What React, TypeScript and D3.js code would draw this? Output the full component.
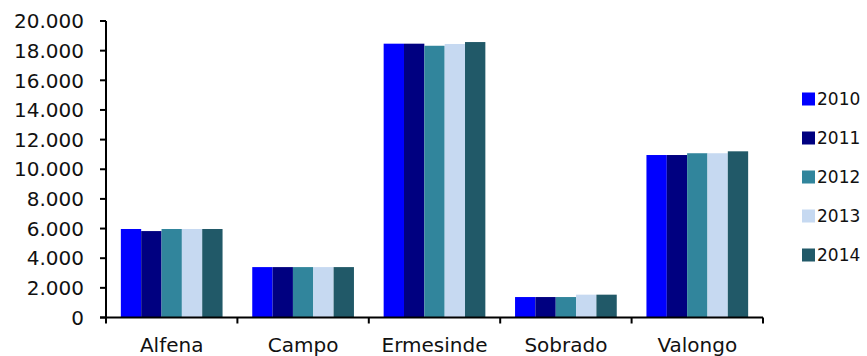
import React from "react";
import * as d3 from "d3";

const categories = ["Alfena", "Campo", "Ermesinde", "Sobrado", "Valongo"];
const years = ["2010", "2011", "2012", "2013", "2014"];
const v2010 = [5970, 3400, 18470, 1380, 10960];
const v2011 = [5830, 3400, 18470, 1380, 10960];
const v2012 = [5970, 3400, 18330, 1380, 11080];
const v2013 = [5970, 3400, 18450, 1540, 11080];
const v2014 = [5970, 3400, 18580, 1540, 11210];
const yTicks = [0, 2000, 4000, 6000, 8000, 10000, 12000, 14000, 16000, 18000, 20000];
const colors = ["#0000FF", "#000080", "#31859C", "#C6D9F1", "#215968"];

const series = [v2010, v2011, v2012, v2013, v2014];
const FONT = "DejaVu Sans, sans-serif";

export default function App() {
  const W = 867, H = 356;
  const left = 106, right = 763, top = 21, bottom = 317.5;
  const x = d3.scaleBand<string>().domain(categories).range([left, right]).paddingInner(0).paddingOuter(0);
  const inner = d3.scaleBand<string>().domain(years).range([0, x.bandwidth()]).paddingInner(0).paddingOuter(0.73);
  const y = d3.scaleLinear().domain([0, 20000]).range([bottom, top]);
  const fmt = (v: number) => d3.format(",")(v).replace(/,/g, ".");
  const catTicks = d3.range(categories.length + 1).map((i) => left + i * x.step());

  return (
    <svg width={W} height={H} style={{ position: "absolute", left: 0, top: 0 }}>
      {categories.map((c, ci) =>
        years.map((yr, si) => {
          const val = series[si][ci];
          return (
            <rect
              key={c + yr}
              x={(x(c) as number) + (inner(yr) as number)}
              y={y(val)}
              width={inner.bandwidth()}
              height={bottom - y(val)}
              fill={colors[si]}
            />
          );
        })
      )}
      <line x1={left} x2={left} y1={top} y2={bottom} stroke="#000" strokeWidth={2} />
      <line x1={left - 6} x2={right} y1={bottom} y2={bottom} stroke="#000" strokeWidth={2} />
      {yTicks.map((t) => (
        <g key={t}>
          <line x1={left - 6} x2={left} y1={y(t)} y2={y(t)} stroke="#000" strokeWidth={2} />
          <text x={84} y={y(t)} dy="0.36em" textAnchor="end" fontFamily={FONT} fontSize={20} fill="#111">
            {fmt(t)}
          </text>
        </g>
      ))}
      {catTicks.map((t, i) => (
        <line key={i} x1={t} x2={t} y1={bottom} y2={bottom + 6} stroke="#000" strokeWidth={2} />
      ))}
      {categories.map((c) => (
        <text key={c} x={(x(c) as number) + x.bandwidth() / 2} y={352} textAnchor="middle" fontFamily={FONT} fontSize={20} fill="#111">
          {c}
        </text>
      ))}
      {years.map((yr, i) => (
        <g key={yr} transform={`translate(802, ${99 + i * 39})`}>
          <rect x={0} y={-6.5} width={13} height={13} fill={colors[i]} />
          <text x={15} y={0} dy="0.36em" fontFamily={FONT} fontSize={17} fill="#111">
            {yr}
          </text>
        </g>
      ))}
    </svg>
  );
}
